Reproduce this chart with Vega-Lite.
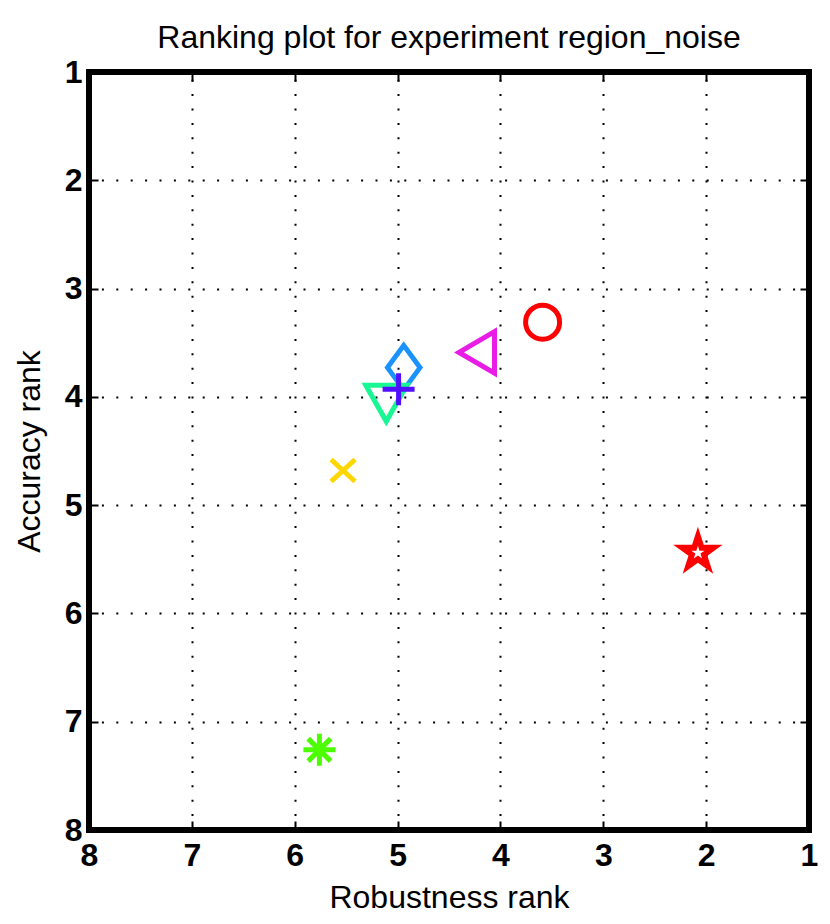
{
  "$schema": "https://vega.github.io/schema/vega-lite/v6.json",
  "width": 720,
  "height": 758,
  "autosize": "none",
  "padding": {"left": 89, "top": 72, "right": 21, "bottom": 94},
  "background": "white",
  "config": {
    "view": {"stroke": "black", "strokeWidth": 6},
    "font": "Liberation Sans"
  },
  "title": {
    "text": "Ranking plot for experiment region_noise",
    "fontSize": 32,
    "fontWeight": "normal",
    "font": "Liberation Sans",
    "color": "black",
    "offset": 1,
    "anchor": "middle"
  },
  "data": {
    "values": [
      {"method": "A", "robustness": 3.59, "accuracy": 3.31},
      {"method": "B", "robustness": 4.23, "accuracy": 3.59},
      {"method": "C", "robustness": 4.94, "accuracy": 3.73},
      {"method": "E", "robustness": 5.11, "accuracy": 4.06},
      {"method": "D", "robustness": 4.99, "accuracy": 3.93},
      {"method": "F", "robustness": 5.53, "accuracy": 4.68},
      {"method": "G", "robustness": 2.08, "accuracy": 5.44},
      {"method": "H", "robustness": 5.76, "accuracy": 7.26}
    ]
  },
  "resolve": {"axis": {"x": "independent", "y": "independent"}},
  "layer": [
    {
      "transform": [{"filter": "datum.method != 'G'"}],
      "mark": {"type": "point", "filled": false, "strokeWidth": 5, "size": 2500, "opacity": 1, "strokeCap": "butt", "strokeJoin": "miter"},
      "encoding": {
        "x": {
          "field": "robustness", "type": "quantitative",
          "scale": {"domain": [1, 8], "reverse": true, "nice": false, "zero": false},
          "axis": {
            "orient": "bottom", "title": "Robustness rank", "values": [1, 2, 3, 4, 5, 6, 7, 8],
            "titleFontSize": 32, "titleFontWeight": "normal", "titleColor": "black", "titleFont": "Liberation Sans",
            "labelFontSize": 32, "labelFontWeight": "bold", "labelColor": "black", "labelFont": "Liberation Sans",
            "labelFlush": false, "labelPadding": 19, "titlePadding": 11,
            "grid": true, "gridColor": "black", "gridDash": [2, 12.4], "gridWidth": 2, "gridOpacity": 1,
            "domain": false, "ticks": true, "tickSize": -9, "tickColor": "black", "tickWidth": 2
          }
        },
        "y": {
          "field": "accuracy", "type": "quantitative",
          "scale": {"domain": [1, 8], "reverse": true, "nice": false, "zero": false},
          "axis": {
            "orient": "left", "title": "Accuracy rank", "values": [1, 2, 3, 4, 5, 6, 7, 8],
            "titleFontSize": 32, "titleFontWeight": "normal", "titleColor": "black", "titleFont": "Liberation Sans",
            "labelFontSize": 32, "labelFontWeight": "bold", "labelColor": "black", "labelFont": "Liberation Sans",
            "labelFlush": false, "labelPadding": 16, "titlePadding": 18,
            "grid": true, "gridColor": "black", "gridDash": [2, 12.4], "gridWidth": 2, "gridOpacity": 1,
            "domain": false, "ticks": true, "tickSize": -9, "tickColor": "black", "tickWidth": 2
          }
        },
        "shape": {
          "field": "method", "type": "nominal", "legend": null,
          "scale": {
            "domain": ["A", "B", "C", "D", "E", "F", "H"],
            "range": [
              "M0.68,0C0.68,0.3756,0.3756,0.68,0,0.68C-0.3756,0.68,-0.68,0.3756,-0.68,0C-0.68,-0.3756,-0.3756,-0.68,0,-0.68C0.3756,-0.68,0.68,-0.3756,0.68,0Z",
              "M-0.71,0L0.71,-0.83L0.71,0.83Z",
              "M0,-0.89L0.65,0L0,0.89L-0.65,0Z",
              "M-0.64,0L0.64,0M0,-0.64L0,0.64",
              "M-0.82,-0.72L0.82,-0.72L0,0.72Z",
              "M-0.48,-0.44L0.48,0.44M-0.48,0.44L0.48,-0.44",
              "M-0.64,0L0.64,0M0,-0.64L0,0.64M-0.45,-0.45L0.45,0.45M-0.45,0.45L0.45,-0.45"
            ]
          }
        },
        "color": {
          "field": "method", "type": "nominal", "legend": null,
          "scale": {
            "domain": ["A", "B", "C", "D", "E", "F", "H"],
            "range": ["#ff0000", "#e91ce6", "#1b93ff", "#5010ff", "#19f794", "#ffd700", "#4cff00"]
          }
        }
      }
    },
    {
      "transform": [{"filter": "datum.method == 'G'"}],
      "mark": {
        "type": "point", "filled": true, "size": 2500, "opacity": 1, "color": "#ff0000",
        "shape": "M0,-1.04L0.233,-0.321L0.989,-0.321L0.378,0.123L0.611,0.841L0,0.397L-0.611,0.841L-0.378,0.123L-0.989,-0.321L-0.233,-0.321Z"
      },
      "encoding": {
        "x": {"field": "robustness", "type": "quantitative", "axis": null},
        "y": {"field": "accuracy", "type": "quantitative", "axis": null}
      }
    },
    {
      "transform": [{"filter": "datum.method == 'G'"}],
      "mark": {
        "type": "point", "filled": true, "size": 2500, "opacity": 1, "color": "#ffffff",
        "shape": "M0,-0.28L0.063,-0.086L0.266,-0.086L0.102,0.033L0.165,0.226L0,0.107L-0.165,0.226L-0.102,0.033L-0.266,-0.086L-0.063,-0.086Z"
      },
      "encoding": {
        "x": {"field": "robustness", "type": "quantitative", "axis": null},
        "y": {"field": "accuracy", "type": "quantitative", "axis": null}
      }
    },
    {
      "mark": {"type": "point", "opacity": 0},
      "encoding": {
        "x": {
          "field": "robustness", "type": "quantitative",
          "axis": {"orient": "top", "title": null, "labels": false, "values": [1, 2, 3, 4, 5, 6, 7, 8], "grid": false, "domain": false, "ticks": true, "tickSize": -9, "tickColor": "black", "tickWidth": 2}
        },
        "y": {
          "field": "accuracy", "type": "quantitative",
          "axis": {"orient": "right", "title": null, "labels": false, "values": [1, 2, 3, 4, 5, 6, 7, 8], "grid": false, "domain": false, "ticks": true, "tickSize": -9, "tickColor": "black", "tickWidth": 2}
        }
      }
    }
  ]
}
